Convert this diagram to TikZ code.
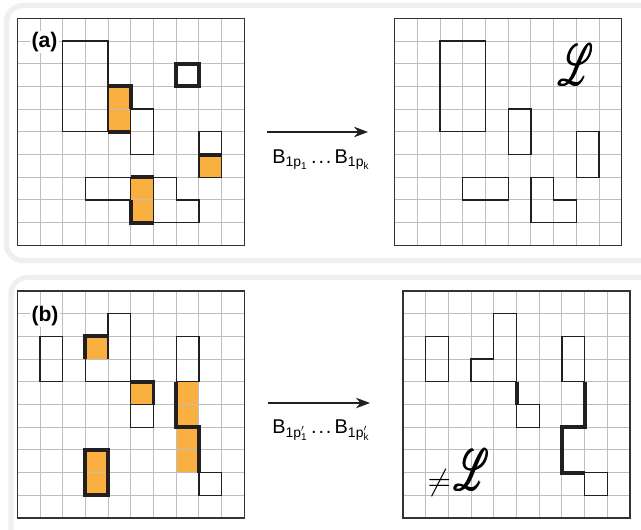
\documentclass[tikz,border=0pt]{standalone}
\usepackage{fontspec}
\setmainfont{Liberation Sans}
\usepackage{amsmath}
\usepackage{mathrsfs}
\usetikzlibrary{arrows.meta}
\definecolor{gitter}{HTML}{BEBEBE}
\definecolor{rand}{HTML}{333333}
\definecolor{kante}{HTML}{231F20}
\definecolor{besetzt}{HTML}{F9B040}
\definecolor{rahmen}{HTML}{EFEFEF}

\begin{document}
\begin{tikzpicture}[x=0.03cm, y=-0.03cm,
  gitterlinie/.style={draw=gitter, line width=0.8pt},
  randlinie/.style={draw=rand, line width=1.2pt},
  umriss/.style={draw=kante, line width=1.1pt},
  bindung/.style={draw=kante, line width=3.4pt},
  feld/.style={fill=besetzt},
  rahmenlinie/.style={draw=rahmen, line width=4.5pt, rounded corners=14pt},
  etikett/.style={fill=white, inner sep=1pt, font=\fontsize{18}{18}\selectfont\bfseries},
  operator/.style={font=\fontsize{17}{17}\selectfont, anchor=base},
  skript/.style={inner sep=0pt},
  pfeil/.style={-{Stealth[length=12pt, width=9pt]}, line width=0.9pt, draw=kante}]

\useasboundingbox (0,0) rectangle (641,529);

% Frames
\draw[rahmenlinie] (6.5,5.5) rectangle (670,260.5);
\draw[rahmenlinie] (11,277.5) rectangle (670,560);

% (a) before
\begin{scope}[shift={(17.3,18.3)}, x=0.681cm, y=-0.681cm]
\fill[feld] (4,3) rectangle (5,5);
\fill[feld] (8,6) rectangle (9,7);
\fill[feld] (5,7) rectangle (6,9);
\foreach \i in {1,...,9} \draw[gitterlinie] (\i,0) -- (\i,10) (0,\i) -- (10,\i);
\draw[randlinie] (0,0) rectangle (10,10);
\node[etikett] (a-label) at (1.2,1.05) {(a)};
\draw[umriss] (2,1) rectangle (4,5);
\draw[umriss] (5,4) rectangle (6,6);
\draw[umriss] (8,5) rectangle (9,7);
\draw[umriss] (3,7) -- (7,7) -- (7,8) -- (8,8) -- (8,9) -- (5,9) -- (5,8) -- (3,8) -- cycle;
\draw[umriss] (5,7) -- (5,8) (6,7) -- (6,9);
\draw[bindung] (4,3) -- (5,3) -- (5,4) (4,5) -- (5,5);
\draw[bindung] (7,2) rectangle (8,3);
\draw[bindung] (8,6) -- (9,6);
\draw[bindung] (5,7) -- (6,7) (5,8) -- (5,9) -- (6,9);
\end{scope}

% (a) after
\begin{scope}[shift={(394.7,18.3)}, x=0.681cm, y=-0.681cm]
\foreach \i in {1,...,9} \draw[gitterlinie] (\i,0) -- (\i,10) (0,\i) -- (10,\i);
\draw[randlinie] (0,0) rectangle (10,10);
\draw[umriss] (2,1) rectangle (4,5);
\draw[umriss] (5,4) rectangle (6,6);
\draw[umriss] (8,5) rectangle (9,7);
\draw[umriss] (3,7) rectangle (5,8);
\draw[umriss] (6,7) -- (7,7) -- (7,8) -- (8,8) -- (8,9) -- (6,9) -- cycle;
\node[skript] (a-L) at (8,2.05) {\resizebox{30pt}{36pt}{$\pmb{\mathscr{L}}$}};
\end{scope}

% (b) before
\begin{scope}[shift={(17.3,291)}, x=0.681cm, y=-0.681cm]
\fill[feld] (3,2) rectangle (4,3);
\fill[feld] (5,4) rectangle (6,5);
\fill[feld] (7,4) rectangle (8,8);
\fill[feld] (3,7) rectangle (4,9);
\foreach \i in {1,...,9} \draw[gitterlinie] (\i,0) -- (\i,10) (0,\i) -- (10,\i);
\draw[randlinie] (0,0) rectangle (10,10);
\node[etikett] (b-label) at (1.22,1.1) {(b)};
\draw[umriss] (1,2) rectangle (2,4);
\draw[umriss] (4,1) -- (5,1) -- (5,4) -- (3,4) -- (3,2) -- (4,2) -- cycle;
\draw[umriss] (4,2) -- (4,3);
\draw[umriss] (5,4) -- (5,5);
\draw[umriss] (5,5) rectangle (6,6);
\draw[umriss] (7,2) rectangle (8,4);
\draw[umriss] (8,8) rectangle (9,9);
\draw[bindung] (3,3) -- (3,2) -- (4,2);
\draw[bindung] (5,4) -- (6,4) -- (6,5);
\draw[bindung] (7,4) -- (7,6) -- (8,6) -- (8,8);
\draw[bindung] (3,7) rectangle (4,9);
\end{scope}

% (b) after
\begin{scope}[shift={(403,291)}, x=0.681cm, y=-0.681cm]
\foreach \i in {1,...,9} \draw[gitterlinie] (\i,0) -- (\i,10) (0,\i) -- (10,\i);
\draw[randlinie] (0,0) rectangle (10,10);
\draw[umriss] (1,2) rectangle (2,4);
\draw[umriss] (4,1) -- (5,1) -- (5,4) -- (3,4) -- (3,3) -- (4,3) -- cycle;
\draw[umriss] (5,5) rectangle (6,6);
\draw[umriss] (7,2) rectangle (8,4);
\draw[umriss] (8,8) rectangle (9,9);
\draw[bindung] (5,4) -- (5,5);
\draw[bindung] (8,4) -- (8,6) -- (7,6) -- (7,8) -- (8,8);
\node[skript] (b-L) at (2.45,8) {\resizebox{20pt}{!}{$\neq$}\kern3pt\resizebox{30pt}{36pt}{$\pmb{\mathscr{L}}$}};
\end{scope}

% Arrows
\coordinate (a-start) at (267,132);
\coordinate (a-ende) at (368,132);
\draw[pfeil] (a-start) -- (a-ende);
\node[operator] (a-op) at (321,163) {$\text{B}_{\text{1p}_{\text{1}}}\,\text{.\kern1.5pt.\kern1.5pt.}\,\text{B}_{\text{1p}_{\text{k}}}$};

\coordinate (b-start) at (268,403);
\coordinate (b-ende) at (370,403);
\draw[pfeil] (b-start) -- (b-ende);
\node[operator] (b-op) at (321,433) {$\text{B}_{\text{1p}'_{\text{1}}}\,\text{.\kern1.5pt.\kern1.5pt.}\,\text{B}_{\text{1p}'_{\text{k}}}$};
\end{tikzpicture}
\end{document}
